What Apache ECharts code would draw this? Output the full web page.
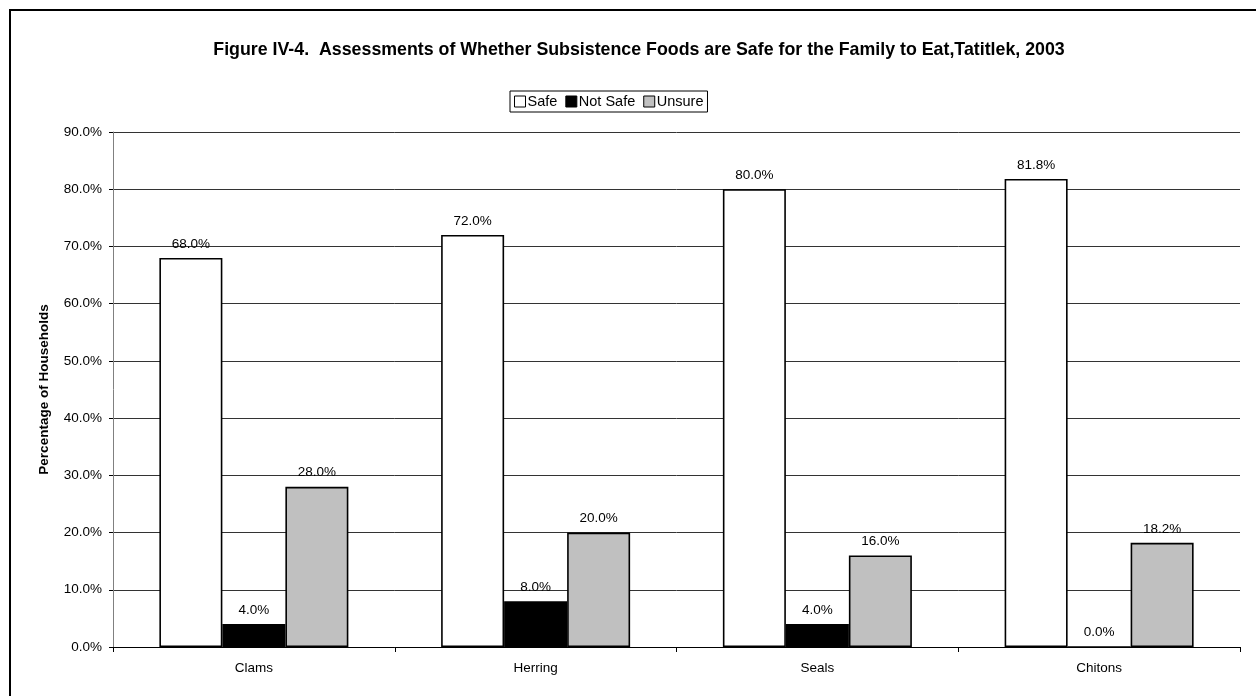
<!DOCTYPE html>
<html>
<head>
<meta charset="utf-8">
<title>Figure IV-4</title>
<script src="https://cdn.jsdelivr.net/npm/echarts@6/dist/echarts.min.js"></script>
<style>
  html, body { margin: 0; padding: 0; background: #fff; }
  #chart { width: 1256px; height: 696px; }
</style>
</head>
<body>
<div id="chart"></div>
<script>
// data
const categories = ['Clams', 'Herring', 'Seals', 'Chitons'];
const safe = [68.0, 72.0, 80.0, 81.8];
const notSafe = [4.0, 8.0, 4.0, 0.0];
const unsure = [28.0, 20.0, 16.0, 18.2];
const seriesNames = ['Safe', 'Not Safe', 'Unsure'];
const seriesColors = ['#ffffff', '#000000', '#c0c0c0'];

const chart = echarts.init(document.getElementById('chart'));

const pct = v => Number(v).toFixed(1) + '%';

const makeSeries = (name, data, color) => ({
  name: name,
  type: 'bar',
  data: data,
  barWidth: 63,
  barGap: '0%',
  itemStyle: {
    color: color,
    borderColor: '#000',
    borderWidth: 1.6
  },
  label: {
    show: true,
    position: 'top',
    distance: 7,
    color: '#000',
    fontSize: 13.5,
    formatter: p => pct(p.value)
  }
});

const option = {
  animation: false,
  backgroundColor: '#fff',
  textStyle: { fontFamily: 'Liberation Sans, Arial, sans-serif' },
  title: {
    text: 'Figure IV-4.  Assessments of Whether Subsistence Foods are Safe for the Family to Eat,Tatitlek, 2003',
    left: 634,
    textAlign: 'center',
    top: 36,
    textStyle: {
      fontSize: 17.8,
      fontWeight: 'bold',
      color: '#000',
      fontFamily: 'Liberation Sans, Arial, sans-serif'
    }
  },
  legend: {
    data: seriesNames,
    left: 510,
    top: 91,
    padding: [3, 4, 3, 4],
    borderColor: '#000',
    borderWidth: 1,
    itemGap: 8,
    itemWidth: 11,
    itemHeight: 11,
    icon: 'rect',
    textStyle: {
      fontSize: 14.5,
      color: '#000',
      padding: [0, 0, 0, -3]
    },
    itemStyle: { borderColor: '#000', borderWidth: 1 }
  },
  grid: {
    left: 113,
    right: 16,
    top: 132,
    bottom: 49,
    containLabel: false
  },
  xAxis: {
    type: 'category',
    data: categories,
    axisLine: { lineStyle: { color: '#000', width: 1 } },
    axisTick: { show: true, length: 5, inside: false, lineStyle: { color: '#000' } },
    axisLabel: { color: '#000', fontSize: 13.5, margin: 14 }
  },
  yAxis: {
    type: 'value',
    min: 0,
    max: 90,
    interval: 10,
    name: 'Percentage of Households',
    nameLocation: 'middle',
    nameGap: 62,
    nameTextStyle: { fontSize: 13.5, fontWeight: 'bold', color: '#000' },
    axisLine: { show: true, lineStyle: { color: '#808080', width: 1 } },
    axisTick: { show: true, length: 4, lineStyle: { color: '#000' } },
    axisLabel: { color: '#000', fontSize: 13.5, margin: 11, formatter: v => pct(v) },
    splitLine: { show: true, lineStyle: { color: '#333', width: 1 } }
  },
  graphic: [{
    type: 'rect',
    shape: { x: 10, y: 10, width: 1270, height: 720 },
    style: { fill: 'none', stroke: '#000', lineWidth: 2 },
    silent: true
  }],
  series: [
    makeSeries(seriesNames[0], safe, seriesColors[0]),
    makeSeries(seriesNames[1], notSafe, seriesColors[1]),
    makeSeries(seriesNames[2], unsure, seriesColors[2])
  ]
};

chart.setOption(option);
</script>
</body>
</html>
